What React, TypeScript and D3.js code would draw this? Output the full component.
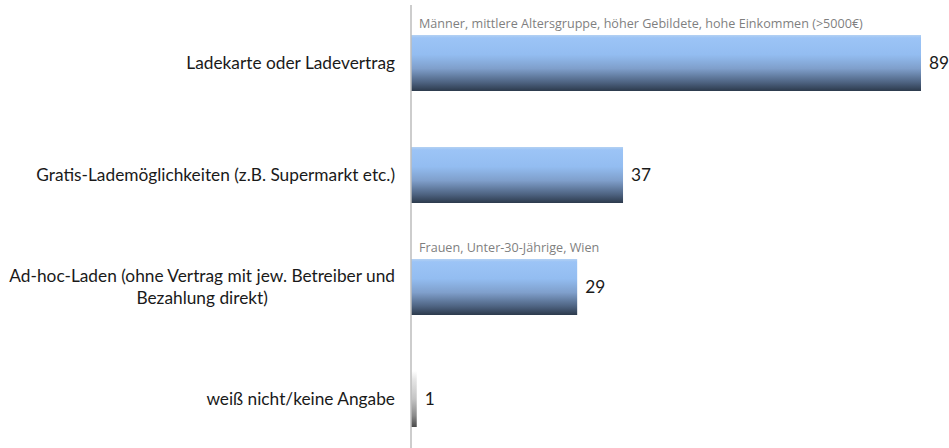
import React, { useEffect, useRef } from "react";
import * as d3 from "d3";

const categories = [
  "Ladekarte oder Ladevertrag",
  "Gratis-Lademöglichkeiten (z.B. Supermarkt etc.)",
  "Ad-hoc-Laden (ohne Vertrag mit jew. Betreiber und|Bezahlung direkt)",
  "weiß nicht/keine Angabe",
];
const values = [89, 37, 29, 1];
const notes = [
  "Männer, mittlere Altersgruppe, höher Gebildete, hohe Einkommen (>5000€)",
  "",
  "Frauen, Unter-30-Jährige, Wien",
  "",
];

export default function App() {
  const svgRef = useRef<SVGSVGElement>(null);

  useEffect(() => {
    const width = 949;
    const height = 448;
    const svg = d3.select(svgRef.current);
    svg.selectAll("*").remove();
    svg.attr("width", width).attr("height", height);

    const defs = svg.append("defs");
    const blue = defs.append("linearGradient").attr("id", "gBlue")
      .attr("x1", 0).attr("y1", 0).attr("x2", 0).attr("y2", 1);
    [
      [0, "#b4d1f2"], [0.05, "#9cc4f6"], [0.35, "#93bdf1"], [0.6, "#7f9fcb"],
      [0.85, "#4d6280"], [1, "#2c3a4c"],
    ].forEach(([o, c]) => blue.append("stop").attr("offset", o as number).attr("stop-color", c as string));
    const gray = defs.append("linearGradient").attr("id", "gGray")
      .attr("x1", 0).attr("y1", 0).attr("x2", 0).attr("y2", 1);
    [
      [0, "#ffffff"], [0.15, "#e6e6e6"], [0.5, "#c4c4c4"], [0.8, "#8a8a8a"], [1, "#4a4a4a"],
    ].forEach(([o, c]) => gray.append("stop").attr("offset", o as number).attr("stop-color", c as string));

    const x = d3.scaleLinear().domain([0, 89]).range([411, 921]);
    const y = d3.scaleBand<string>().domain(categories).range([7, 455])
      .paddingInner(0.5).paddingOuter(0.25);

    const font = "Lato, 'Open Sans', sans-serif";
    const noteFont = "'Open Sans', sans-serif";

    // bars
    svg.selectAll("rect.bar")
      .data(categories)
      .enter()
      .append("rect")
      .attr("class", "bar")
      .attr("x", x(0))
      .attr("y", d => y(d)!)
      .attr("width", (d, i) => x(values[i]) - x(0))
      .attr("height", y.bandwidth())
      .attr("fill", (d, i) => (values[i] < 5 ? "url(#gGray)" : "url(#gBlue)"));

    // axis line
    svg.append("line")
      .attr("x1", 411).attr("x2", 411)
      .attr("y1", 5).attr("y2", height)
      .attr("stroke", "#bdbdbd").attr("stroke-width", 1.5);

    // category labels (block right-aligned, wrapped lines centred)
    categories.forEach(c => {
      const lines = c.split("|");
      const cy = y(c)! + y.bandwidth() / 2;
      const lh = 22;
      const g = svg.append("g");
      const texts = lines.map((ln, j) =>
        g.append("text")
          .attr("y", cy + (j - (lines.length - 1) / 2) * lh)
          .attr("dy", "0.35em")
          .attr("font-family", font)
          .attr("font-size", 17.3)
          .attr("fill", "#1a1a1a")
          .text(ln)
      );
      const widths = texts.map(t => (t.node() as SVGTextElement).getComputedTextLength());
      const maxW = Math.max(...widths);
      const center = 395 - maxW / 2;
      texts.forEach(t => t.attr("x", center).attr("text-anchor", "middle"));
    });

    // value labels
    svg.selectAll("text.val")
      .data(categories)
      .enter()
      .append("text")
      .attr("class", "val")
      .attr("x", (d, i) => x(values[i]) + 8)
      .attr("y", d => y(d)! + y.bandwidth() / 2)
      .attr("dy", "0.35em")
      .attr("font-family", font)
      .attr("font-size", 17.3)
      .attr("fill", "#1a1a1a")
      .text((d, i) => values[i]);

    // notes
    svg.selectAll("text.note")
      .data(categories)
      .enter()
      .append("text")
      .attr("class", "note")
      .attr("x", 419)
      .attr("y", d => y(d)! - 11)
      .attr("dy", "0.35em")
      .attr("font-family", noteFont)
      .attr("font-size", 12.6)
      .attr("fill", "#7f7f7f")
      .text((d, i) => notes[i]);
  }, []);

  return (
    <div style={{ position: "absolute", left: 0, top: 0 }}>
      <svg ref={svgRef} style={{ display: "block" }}></svg>
    </div>
  );
}
